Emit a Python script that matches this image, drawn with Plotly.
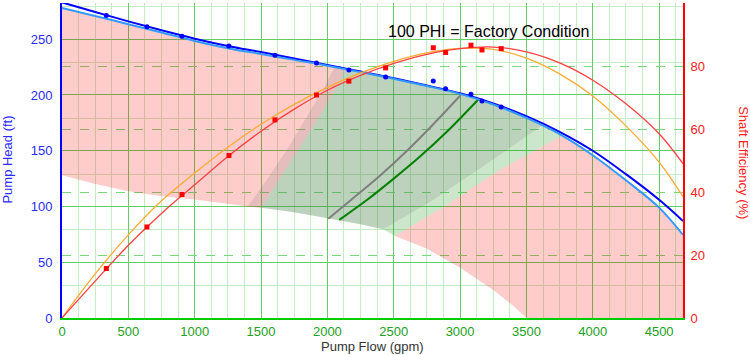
import plotly.graph_objects as go

# ---------------- data ----------------
# measured test points
flow_pts = [334, 640, 904, 1258, 1605, 1918, 2162, 2439, 2798, 2891, 3082, 3165, 3310]
head_pts = [271.2, 261.3, 252.7, 244.0, 235.6, 228.7, 222.4, 216.1, 212.6, 205.6, 200.6, 194.6, 189.2]
eff_pts = [15.7, 28.9, 39.2, 51.6, 62.9, 70.8, 75.2, 79.4, 85.8, 84.3, 86.6, 85.1, 85.5]

# fitted / reference curves
curve_q = [0, 250, 500, 750, 1000, 1250, 1500, 1750, 2000, 2250, 2500, 2750,
           3000, 3250, 3500, 3750, 4000, 4250, 4500, 4680]
head_test = [283, 274.5, 266, 258, 250.5, 244, 238.5, 232.8, 227, 221, 215, 208.5,
             201.5, 192.5, 181, 167, 150, 129, 106, 87]
head_factory = [278, 270.8, 263.5, 256, 248.5, 242, 236.8, 231.5, 226.3, 220.5, 214.5, 208,
                201, 191.5, 179.5, 165, 146, 123.5, 99, 74.5]
eff_test = [0, 11.7, 23.1, 33.2, 42.3, 51.3, 59.3, 66.3, 72.3, 77, 80.8, 83.7,
            85.5, 86, 84.5, 81, 75.5, 68, 58.5, 49]
eff_factory = [0, 14, 26.4, 37.2, 46, 54.2, 61.5, 67.8, 73.2, 77.8, 81.5, 84.2,
               85.6, 85.3, 82.5, 77.5, 70.5, 61, 49.5, 38.5]

# lower limit curve of the operating map
low_q = [0, 250, 500, 750, 1000, 1250, 1400, 1500, 1750, 2000, 2250, 2420, 2510,
         2750, 3000, 3250, 3400, 3500]
low_h = [128, 120.2, 113.7, 109.2, 106.3, 102.5, 100, 98.8, 94.8, 89.5, 84, 79.5, 73.5,
         62, 45, 25, 11, 0]

# region boundary lines (bottom -> top)
a_q = [1400, 1560, 1710, 1860, 1960, 2055]
a_h = [100, 127, 154, 183, 203.5, 225.3]
b_q = [1500, 1650, 1795, 1945, 2045, 2135]
b_h = [98.8, 126, 153.5, 182, 202, 223.3]
c_q = [2420, 2800, 3200, 3615]
c_h = [79.5, 106, 138, 172.6]
d_q = [2510, 2900, 3300, 3770]
d_h = [73.5, 101.5, 133, 163.5]

# PHI lines
gray_q = [2007, 2200, 2400, 2600, 2800, 3005]
gray_h = [89, 108, 128, 150, 174, 200]
green_q = [2090, 2300, 2500, 2700, 2900, 3137]
green_h = [88, 106, 125, 145, 167, 196]

x_max = 4680

# ---------------- helpers ----------------
def top_between(q0, q1, incl_end=False):
    out = []
    for q, h in zip(curve_q, head_factory):
        if q0 < q < q1 or (incl_end and q == q1):
            out.append((q, h))
    return out


def low_between(q0, q1):
    return [(q, h) for q, h in zip(low_q, low_h) if q0 < q < q1]


def poly(points):
    return [p[0] for p in points], [p[1] for p in points]


A = list(zip(a_q, a_h))
B = list(zip(b_q, b_h))
C = list(zip(c_q, c_h))
D = list(zip(d_q, d_h))

pink_left = ([(curve_q[0], head_factory[0])] + top_between(curve_q[0], b_q[-1])
             + B[::-1] + low_between(low_q[0], b_q[0])[::-1] + [(low_q[0], low_h[0])])
gray_reg = A + top_between(a_q[-1], c_q[-1]) + C[::-1] + low_between(a_q[0], c_q[0])[::-1]
green_reg = B + top_between(b_q[-1], d_q[-1]) + D[::-1] + low_between(b_q[0], d_q[0])[::-1]
pink_right = (D + top_between(d_q[-1], x_max, incl_end=True) + [(x_max, 0), (low_q[-1], low_h[-1])]
              + low_between(d_q[0], low_q[-1])[::-1])

fig = go.Figure()

for pts, col in [(pink_left, "rgba(255,0,0,0.2)"), (pink_right, "rgba(255,0,0,0.2)"),
                 (green_reg, "rgba(0,128,0,0.2)"), (gray_reg, "rgba(128,128,128,0.2)")]:
    px, py = poly(pts)
    fig.add_trace(go.Scatter(x=px, y=py, fill="toself", fillcolor=col, mode="lines",
                             line=dict(width=0, color=col), hoverinfo="skip", showlegend=False))

fig.add_trace(go.Scatter(x=gray_q, y=gray_h, mode="lines", line=dict(color="#7f7f7f", width=2, shape="spline"),
                         showlegend=False))
fig.add_trace(go.Scatter(x=green_q, y=green_h, mode="lines", line=dict(color="#008000", width=2, shape="spline"),
                         showlegend=False))

fig.add_trace(go.Scatter(x=curve_q, y=head_test, mode="lines",
                         line=dict(color="#0000ff", width=2, shape="spline"), showlegend=False))
fig.add_trace(go.Scatter(x=curve_q, y=head_factory, mode="lines",
                         line=dict(color="#3399ff", width=2, shape="spline"), showlegend=False))
fig.add_trace(go.Scatter(x=flow_pts, y=head_pts, mode="markers",
                         marker=dict(color="#0000ff", size=5), showlegend=False))

fig.add_trace(go.Scatter(x=curve_q, y=eff_factory, mode="lines", yaxis="y2",
                         line=dict(color="#ffaa33", width=1.3, shape="spline"), showlegend=False))
fig.add_trace(go.Scatter(x=curve_q, y=eff_test, mode="lines", yaxis="y2",
                         line=dict(color="#ff4040", width=1.3, shape="spline"), showlegend=False))
fig.add_trace(go.Scatter(x=flow_pts, y=eff_pts, mode="markers", yaxis="y2",
                         marker=dict(color="#ff0000", size=5, symbol="square"), showlegend=False))

FONT = "Liberation Sans, Arial, sans-serif"
major = "#66cc66"
minor = "#c6ecc6"

fig.update_layout(
    width=750, height=355,
    margin=dict(l=62, r=67, t=3, b=37),
    paper_bgcolor="white", plot_bgcolor="white",
    font=dict(family=FONT, size=13),
    showlegend=False,
    xaxis=dict(range=[0, x_max], tick0=0, dtick=500, showgrid=True, gridcolor=major, gridwidth=1,
               minor=dict(dtick=125, tick0=0, showgrid=True, gridcolor=minor, ticks=""),
               showline=True, linecolor="#00cc00", linewidth=2, zeroline=False,
               ticks="", tickfont=dict(color="#22a022", size=13, family=FONT)),
    yaxis=dict(range=[0, 282.5], tick0=0, dtick=50, showgrid=True, gridcolor=major, gridwidth=1,
               minor=dict(tick0=29, dtick=50, showgrid=True, gridcolor=minor, ticks=""),
               showline=True, linecolor="#0000ff", linewidth=2, zeroline=False,
               ticks="outside", ticklen=5, tickcolor="rgba(0,0,0,0)",
               tickfont=dict(color="#2b2bff", size=13, family=FONT)),
    yaxis2=dict(range=[0, 100], overlaying="y", side="right", tickvals=[0, 20, 40, 60, 80],
                showgrid=True, gridcolor="#77d977", griddash="dash", gridwidth=1,
                showline=True, linecolor="#ff0000", linewidth=2, zeroline=False,
                ticks="outside", ticklen=3, tickcolor="rgba(0,0,0,0)",
                tickfont=dict(color="#ff2020", size=13, family=FONT)),
    annotations=[
        dict(text="100 PHI = Factory Condition", xref="paper", yref="paper", x=0.686, y=0.911,
             xanchor="center", yanchor="middle", showarrow=False,
             font=dict(size=16, color="black", family=FONT)),
        dict(text="Pump Head (ft)", xref="paper", yref="paper", x=-0.088, y=0.504,
             xanchor="center", yanchor="middle", showarrow=False, textangle=-90,
             font=dict(size=13, color="#2b2bff", family=FONT)),
        dict(text="Shaft Efficiency (%)", xref="paper", yref="paper", x=1.097, y=0.494,
             xanchor="center", yanchor="middle", showarrow=False, textangle=90,
             font=dict(size=13, color="#ff2020", family=FONT)),
        dict(text="Pump Flow (gpm)", xref="paper", yref="paper", x=0.5, y=-0.09,
             xanchor="center", yanchor="middle", showarrow=False,
             font=dict(size=13, color="#333333", family=FONT)),
    ],
)

fig.write_html(
    "out.html",
    config={"displayModeBar": False},
    post_script="document.body.style.margin='0px';document.body.style.padding='0px';"
                "document.body.style.overflow='hidden';",
)
